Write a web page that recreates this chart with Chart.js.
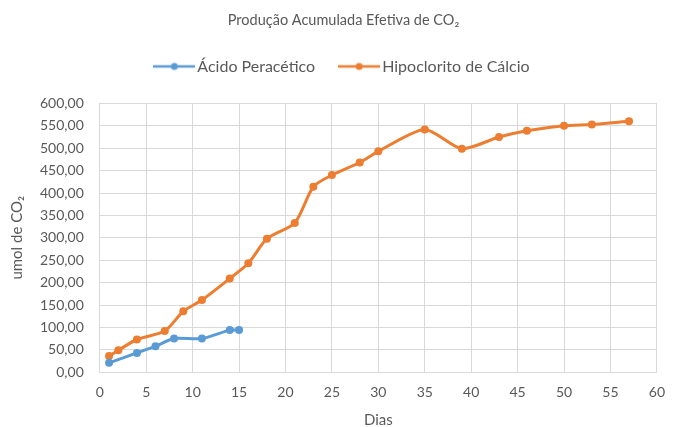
<!DOCTYPE html>
<html>
<head>
<meta charset="utf-8">
<script src="https://cdn.jsdelivr.net/npm/chart.js@4.4.0/dist/chart.umd.min.js"></script>
<style>
  html, body { margin: 0; padding: 0; background: #ffffff; }
  #wrap { width: 677px; height: 427px; }
</style>
</head>
<body>
<div id="wrap"><canvas id="co2Chart" width="677" height="427"></canvas></div>
<script>
// Dias de amostragem e produção acumulada (umol de CO2)
const diasAcido = [1, 4, 6, 8, 11, 14, 15];
const valoresAcido = [21, 43, 58, 75, 75, 94, 94];

const diasHipo = [1, 2, 4, 7, 9, 11, 14, 16, 18, 21, 23, 25, 28, 30, 35, 39, 43, 46, 50, 53, 57];
const valoresHipo = [36, 49, 73, 92, 136, 161, 209, 243, 298, 333, 414, 440, 468, 493, 542, 499, 525, 539, 550, 553, 560];

const xTicks = [0, 5, 10, 15, 20, 25, 30, 35, 40, 45, 50, 55, 60];

const azul = '#5B9BD5';
const laranja = '#ED7D31';
const cinza = '#595959';
const fonte = 'Lato, "Open Sans", sans-serif';

function pontos(xs, ys) {
    return xs.map((x, i) => ({ x: x, y: ys[i] }));
}

// Marcador da legenda estilo Excel: linha com ponto no meio
function marcadorLegenda(cor) {
    const c = document.createElement('canvas');
    c.width = 42;
    c.height = 10;
    const g = c.getContext('2d');
    g.strokeStyle = cor;
    g.lineWidth = 2.5;
    g.beginPath();
    g.moveTo(0, 5);
    g.lineTo(42, 5);
    g.stroke();
    g.fillStyle = cor;
    g.beginPath();
    g.arc(21, 5, 3.5, 0, Math.PI * 2);
    g.fill();
    return c;
}

// Espaço extra abaixo da legenda e ajuste horizontal do título/legenda
const ajusteLayout = {
    id: 'ajusteLayout',
    beforeInit: function(chart) {
        const fitOriginal = chart.legend.fit;
        chart.legend.fit = function() {
            fitOriginal.bind(chart.legend)();
            this.height += 19;
        };
    },
    afterLayout: function(chart) {
        chart.titleBlock.left += 6;
        chart.titleBlock.right += 6;
        chart.legend.left += 7;
        chart.legend.right += 7;
    }
};

const ctx = document.getElementById('co2Chart').getContext('2d');

new Chart(ctx, {
    type: 'line',
    data: {
        datasets: [{
            label: 'Ácido Peracético',
            data: pontos(diasAcido, valoresAcido),
            borderColor: azul,
            backgroundColor: azul,
            borderWidth: 3,
            pointRadius: 4,
            pointBorderWidth: 0,
            pointBackgroundColor: azul,
            tension: 0.25
        }, {
            label: 'Hipoclorito de Cálcio',
            data: pontos(diasHipo, valoresHipo),
            borderColor: laranja,
            backgroundColor: laranja,
            borderWidth: 3,
            pointRadius: 4,
            pointBorderWidth: 0,
            pointBackgroundColor: laranja,
            tension: 0.25
        }]
    },
    plugins: [ajusteLayout],
    options: {
        responsive: false,
        animation: false,
        layout: {
            padding: { left: 4, right: 6, top: 6, bottom: 0 }
        },
        plugins: {
            title: {
                display: true,
                text: 'Produção Acumulada Efetiva de CO₂',
                color: cinza,
                font: { family: fonte, size: 14.5, weight: 'normal' },
                padding: { top: 6, bottom: 0 }
            },
            legend: {
                position: 'top',
                labels: {
                    color: cinza,
                    font: { family: fonte, size: 16 },
                    usePointStyle: true,
                    pointStyleWidth: 30,
                    padding: 29,
                    generateLabels: function(chart) {
                        return chart.data.datasets.map((ds, i) => ({
                            text: ds.label,
                            fillStyle: ds.borderColor,
                            strokeStyle: ds.borderColor,
                            fontColor: cinza,
                            lineWidth: 0,
                            pointStyle: marcadorLegenda(ds.borderColor),
                            datasetIndex: i,
                            hidden: false
                        }));
                    }
                }
            },
            tooltip: { enabled: false }
        },
        scales: {
            x: {
                type: 'linear',
                min: 0,
                max: 60,
                afterBuildTicks: function(axis) {
                    axis.ticks = xTicks.map(v => ({ value: v }));
                },
                grid: { color: '#D9D9D9', drawTicks: false },
                border: { color: '#D9D9D9' },
                ticks: {
                    color: cinza,
                    padding: 12,
                    font: { family: fonte, size: 14 }
                },
                title: {
                    display: true,
                    text: 'Dias',
                    color: cinza,
                    font: { family: fonte, size: 15 },
                    padding: { top: -2, bottom: -2 }
                }
            },
            y: {
                min: 0,
                max: 600,
                ticks: {
                    stepSize: 50,
                    color: cinza,
                    padding: 16,
                    font: { family: fonte, size: 14 },
                    callback: function(value) {
                        return value.toFixed(2).replace('.', ',');
                    }
                },
                grid: { color: '#D9D9D9', drawTicks: false },
                border: { color: '#D9D9D9' },
                title: {
                    display: true,
                    text: 'umol de CO₂',
                    color: cinza,
                    font: { family: fonte, size: 15 },
                    padding: { top: 4.5, bottom: -2.5 }
                }
            }
        }
    }
});
</script>
</body>
</html>
